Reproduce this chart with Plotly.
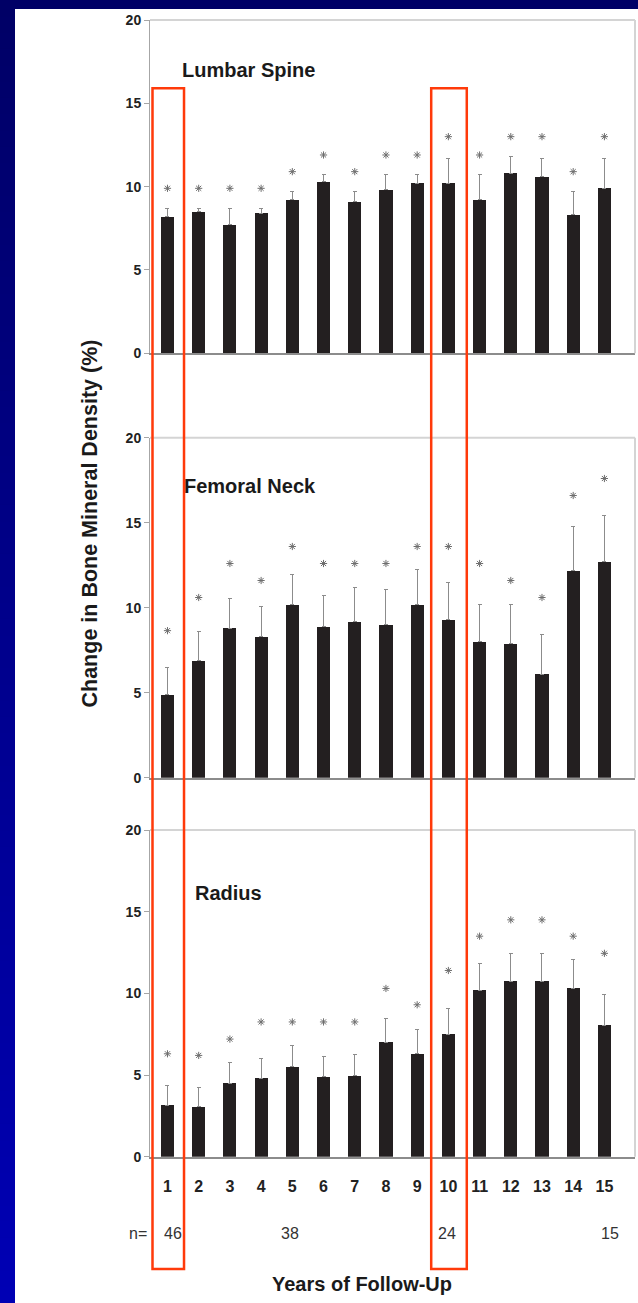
import plotly.graph_objects as go

# ---------------- data ----------------
years = list(range(1, 16))
year_labels = [str(y) for y in years]

lumbar_mean = [8.2, 8.5, 7.7, 8.4, 9.2, 10.3, 9.1, 9.8, 10.2, 10.2, 9.2, 10.8, 10.6, 8.3, 9.9]
lumbar_sd = [0.5, 0.2, 1.0, 0.3, 0.5, 0.4, 0.6, 0.9, 0.5, 1.5, 1.5, 1.0, 1.1, 1.4, 1.8]
lumbar_star = [9.9, 9.9, 9.9, 9.9, 10.9, 11.9, 10.9, 11.9, 11.9, 13.0, 11.9, 13.0, 13.0, 10.9, 13.0]

femoral_mean = [4.9, 6.9, 8.8, 8.3, 10.2, 8.9, 9.2, 9.0, 10.2, 9.3, 8.0, 7.9, 6.1, 12.2, 12.7]
femoral_sd = [1.6, 1.7, 1.75, 1.75, 1.75, 1.8, 2.0, 2.05, 2.05, 2.2, 2.2, 2.3, 2.3, 2.55, 2.75]
femoral_star = [8.65, 10.6, 12.6, 11.6, 13.6, 12.6, 12.6, 12.6, 13.6, 13.6, 12.6, 11.6, 10.6, 16.6, 17.6]

radius_mean = [3.15, 3.05, 4.5, 4.8, 5.5, 4.9, 4.95, 7.0, 6.3, 7.5, 10.2, 10.75, 10.75, 10.3, 8.05]
radius_sd = [1.2, 1.2, 1.25, 1.2, 1.3, 1.25, 1.3, 1.45, 1.5, 1.55, 1.6, 1.7, 1.7, 1.75, 1.9]
radius_star = [6.3, 6.2, 7.2, 8.25, 8.25, 8.25, 8.25, 10.3, 9.3, 11.4, 13.5, 14.5, 14.5, 13.5, 12.45]

panel_titles = ["Lumbar Spine", "Femoral Neck", "Radius"]
y_ticks = [0, 5, 10, 15, 20]

n_years = [1, 5, 10, 15]
n_values = ["46", "38", "24", "15"]

highlight_years = [1, 10]

# ---------------- layout helpers ----------------
W, H = 638, 1303
def fx(p):
    return p / W
def fy(p):
    return 1 - p / H

SANS = "Liberation Sans, Arial, Helvetica, sans-serif"
BAR = "#231f20"
ERR = "#8c8c8c"
STAR = "#6e6e6e"

# panel vertical extents in px (top = 20%, bottom = 0%)
panels_px = [(20, 353.3), (437.7, 777.7), (830, 1156.7)]
x_range = [0.44, 15.98]
x_domain = [fx(150), fx(635)]

series = [
    (lumbar_mean, lumbar_sd, lumbar_star),
    (femoral_mean, femoral_sd, femoral_star),
    (radius_mean, radius_sd, radius_star),
]

fig = go.Figure()
layout = dict(
    width=W, height=H, autosize=False,
    margin=dict(l=0, r=0, t=0, b=0, pad=0, autoexpand=False),
    paper_bgcolor="white",
    plot_bgcolor="white",
    showlegend=False,
    bargap=0,
)

shapes = []
annotations = []

# background: navy top band and blue gradient strip on the left
n_steps = 80
c_top = (0x00, 0x00, 0x66)
c_bot = (0x00, 0x00, 0xB4)
for i in range(n_steps):
    t = i / (n_steps - 1)
    col = "rgb(%d,%d,%d)" % tuple(round(a + (b - a) * t) for a, b in zip(c_top, c_bot))
    shapes.append(dict(type="rect", xref="paper", yref="paper", layer="below",
                       x0=0, x1=fx(15), y0=fy(H * (i + 1) / n_steps) - 0.001, y1=fy(H * i / n_steps),
                       fillcolor=col, line=dict(width=0)))
shapes.append(dict(type="rect", xref="paper", yref="paper", layer="below",
                   x0=0, x1=1, y0=fy(9), y1=1, fillcolor="#000066", line=dict(width=0)))

for k, ((mean, sd, star), (top, bot)) in enumerate(zip(series, panels_px)):
    idx = "" if k == 0 else str(k + 1)
    xa, ya = "x" + idx, "y" + idx
    fig.add_trace(go.Bar(
        x=years, y=mean, width=0.42, xaxis=xa, yaxis=ya,
        marker=dict(color=BAR, line=dict(width=0)),
        error_y=dict(type="data", array=sd, arrayminus=[0] * len(sd), symmetric=False,
                     color=ERR, thickness=1, width=2),
        hoverinfo="skip",
    ))
    fig.add_trace(go.Scatter(
        x=years, y=star, mode="markers", xaxis=xa, yaxis=ya,
        marker=dict(symbol="asterisk-open", size=6, color=STAR, line=dict(color=STAR, width=1)),
        hoverinfo="skip",
    ))
    last = (k == 2)
    layout["xaxis" + idx] = dict(
        domain=x_domain, range=x_range, anchor=ya, automargin=False,
        showline=True, linecolor="#8c8c8c", linewidth=1.5,
        showgrid=False, zeroline=False, ticks="",
        tickvals=years, ticktext=year_labels, showticklabels=last,
        tickfont=dict(family=SANS, size=16, color="#222222", weight=700),
        ticklabelstandoff=14,
    )
    if k > 0:
        layout["xaxis" + idx]["matches"] = "x"
    layout["yaxis" + idx] = dict(
        domain=[fy(bot), fy(top)], range=[0, 20], anchor=xa, automargin=False,
        tickvals=y_ticks, ticks="outside", ticklen=5, tickcolor="#a6a6a6",
        showline=True, linecolor="#a6a6a6", linewidth=1,
        showgrid=False, zeroline=False,
        tickfont=dict(family=SANS, size=14, color="#222222", weight=700),
    )
    # light frame on top and right
    shapes.append(dict(type="line", xref=xa + " domain", yref=ya + " domain",
                       x0=0, x1=1, y0=1, y1=1, line=dict(color="#d4d4d4", width=2)))
    shapes.append(dict(type="line", xref=xa + " domain", yref=ya + " domain",
                       x0=1, x1=1, y0=0, y1=1, line=dict(color="#d4d4d4", width=2)))

# panel titles
title_pos = [(180, 70), (182, 486), (193, 893)]
for t, (x, y) in zip(panel_titles, title_pos):
    annotations.append(dict(text=t, xref="paper", yref="paper", x=fx(x), y=fy(y),
                            xanchor="left", yanchor="middle", showarrow=False,
                            font=dict(family=SANS, size=20, color="#1a1a1a", weight=700)))

# y axis title
annotations.append(dict(text="Change in Bone Mineral Density (%)", xref="paper", yref="paper",
                        x=fx(89), y=fy(523.5), textangle=-90, showarrow=False,
                        xanchor="center", yanchor="middle",
                        font=dict(family=SANS, size=21.5, color="#1a1a1a", weight=700)))
# x axis title
annotations.append(dict(text="Years of Follow-Up", xref="paper", yref="paper",
                        x=fx(362), y=fy(1284), showarrow=False,
                        xanchor="center", yanchor="middle",
                        font=dict(family=SANS, size=20, color="#1a1a1a", weight=700)))
# n row
annotations.append(dict(text="n=", xref="paper", yref="paper", x=fx(137.5), y=fy(1233),
                        showarrow=False, xanchor="center", yanchor="middle",
                        font=dict(family=SANS, size=16, color="#333333")))
n_shift = [6, -2, -1, 6]
for yr, nv, s in zip(n_years, n_values, n_shift):
    annotations.append(dict(text=nv, xref="x3", yref="paper", x=yr, y=fy(1233), xshift=s,
                            showarrow=False, xanchor="center", yanchor="middle",
                            font=dict(family=SANS, size=16, color="#333333")))

# red highlight boxes
box_pad = [(0.48, 0.53), (0.55, 0.59)]
for yr, (a, b) in zip(highlight_years, box_pad):
    shapes.append(dict(type="rect", xref="x", yref="paper", layer="above",
                       x0=yr - a, x1=yr + b, y0=fy(1269), y1=fy(88.3),
                       line=dict(color="#ff3a0a", width=2.5), fillcolor="rgba(0,0,0,0)"))

layout["shapes"] = shapes
layout["annotations"] = annotations
fig.update_layout(**layout)

post = (
    "document.documentElement.style.margin='0';"
    "document.documentElement.style.overflow='hidden';"
    "document.body.style.margin='0';document.body.style.padding='0';"
    "document.body.style.overflow='hidden';"
    "var d=document.getElementById('{plot_id}');"
    "d.style.position='fixed';d.style.top='0px';d.style.left='0px';"
)
fig.write_html("out.html", config={"displayModeBar": False, "responsive": False},
               post_script=post)
